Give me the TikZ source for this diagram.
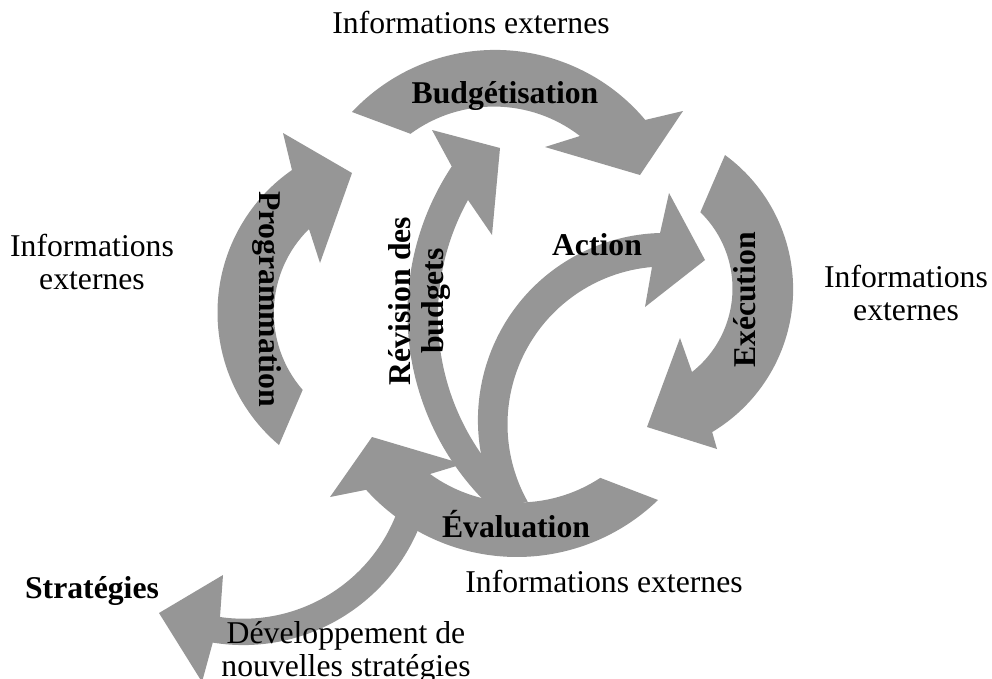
\documentclass[tikz,border=0pt]{standalone}
\usepackage{fontspec}
\setmainfont{Liberation Serif}
\definecolor{arrowgray}{RGB}{150,150,150}
\tikzset{
  band/.style={fill=arrowgray},
  lbl/.style={font=\fontsize{31.7}{33}\selectfont, inner sep=0pt, anchor=base},
  blbl/.style={lbl, font=\fontsize{31.7}{33}\selectfont\bfseries},
  two/.style={align=center, anchor=center}
}
\begin{document}
\begin{tikzpicture}[x=1pt,y=-1pt]
\useasboundingbox (0,0) rectangle (992,678);

% Programmation
\fill[band] (279,445) arc[start angle=130.2, end angle=235.2, radius=173.5]
  -- (283,133) -- (352,173) -- (320,263) -- (309,229)
  arc[start angle=225.5, end angle=139, radius=117.5] -- cycle;
% Budgetisation
\fill[band] (352,112) arc[start angle=223.1, end angle=320, radius=196]
  -- (683,111) -- (640,175) -- (545,147) -- (580,136)
  arc[start angle=307.7, end angle=233.8, radius=141] -- cycle;
% Execution
\fill[band] (725,155) arc[start angle=-53.8, end angle=59.1, radius=166.4]
  -- (717,449) -- (647,427) -- (680,338) -- (692,372)
  arc[start angle=51.7, end angle=-45.7, radius=106.5] -- cycle;
% Evaluation
\fill[band] (658,500) arc[start angle=46, end angle=138, radius=203]
  -- (330,497) -- (372,437) -- (463,464) -- (430,474)
  arc[start angle=125.9, end angle=56.7, radius=150] -- cycle;
% Action
\fill[band] (500,508) arc[start angle=151.9, end angle=268.5, radius=187]
  -- (669,193) -- (705,260) -- (645,307) -- (652,267)
  arc[start angle=265.1, end angle=150.7, radius=158] -- cycle;
% Revision des budgets
\fill[band] (496,512) arc[start angle=131.9, end angle=213.5, radius=266.6]
  -- (432,130) -- (500,148) -- (492,235) -- (468,200)
  arc[start angle=209, end angle=134, radius=240] -- cycle;
% Strategies
\fill[band] (427,504) arc[start angle=15, end angle=99.2, radius=190.3]
  -- (202,682) -- (159,613) -- (223,575) -- (220,617)
  arc[start angle=98.2, end angle=17, radius=164] -- cycle;

% labels
\node[lbl] (infotop) at (471,33) {Informations externes};
\node[lbl, two] (infoleft) at (92,262) {Informations\\externes};
\node[lbl, two] (inforight) at (906,293) {Informations\\externes};
\node[lbl] (infobot) at (604,592) {Informations externes};
\node[lbl, two] (devel) at (346,652) {Développement de\\nouvelles stratégies};
\node[blbl] (strat) at (92,598) {Stratégies};
\node[blbl] (budget) at (505,103) {Budgétisation};
\node[blbl] (action) at (597,255) {Action};
\node[blbl] (eval) at (516,537) {Évaluation};
\node[blbl, rotate=-90] (prog) at (259,299) {Programmation};
\node[blbl, rotate=90] (exec) at (755,300) {Exécution};
\node[blbl, two, rotate=90] (revision) at (419,301) {Révision des\\budgets};
\end{tikzpicture}
\end{document}
